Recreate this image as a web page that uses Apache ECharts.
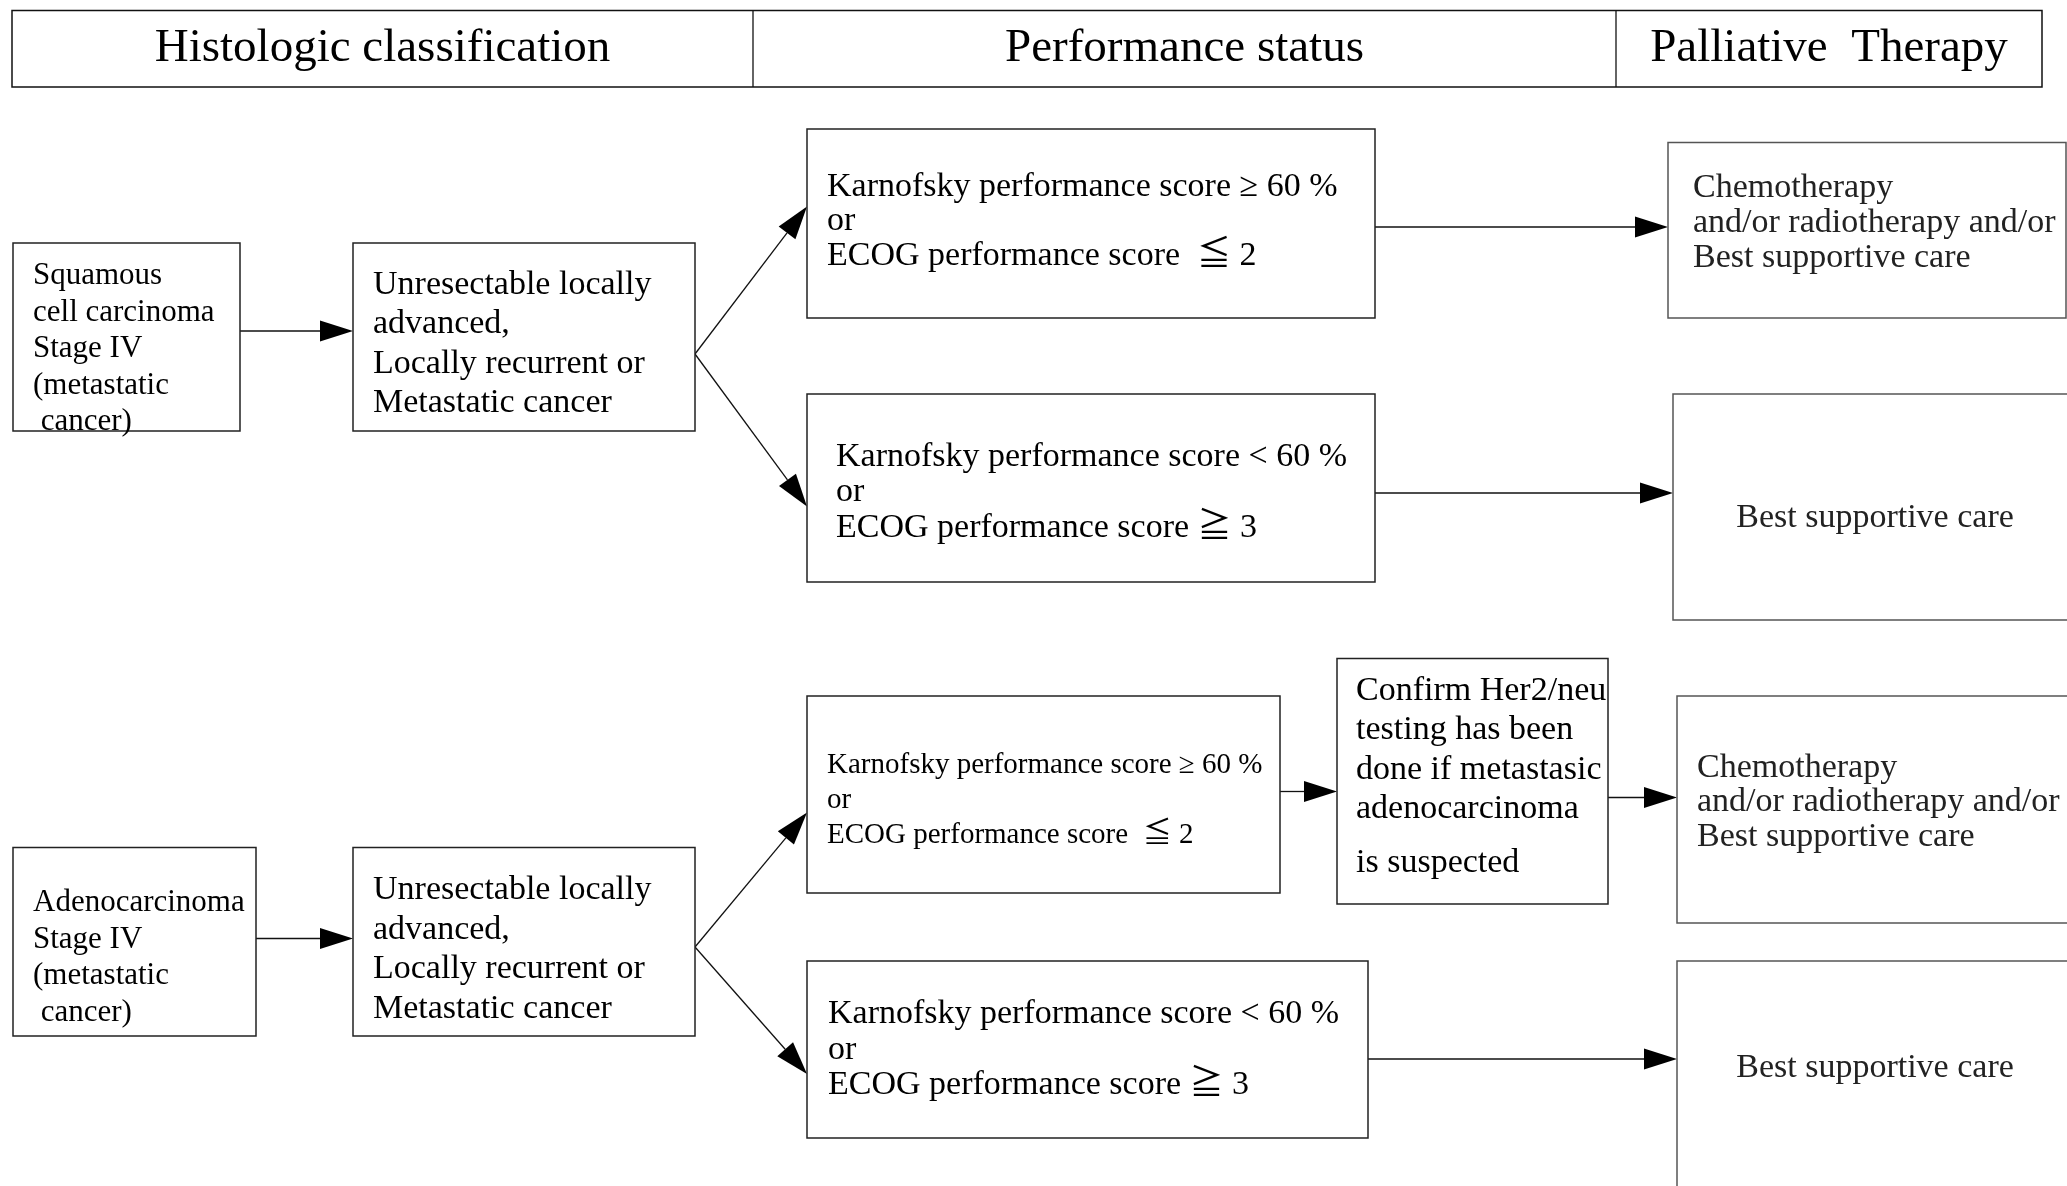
<!DOCTYPE html>
<html>
<head>
<meta charset="utf-8">
<title>Palliative therapy flow</title>
<script src="https://cdn.jsdelivr.net/npm/echarts@6/dist/echarts.min.js"></script>
<style>
  html, body { margin: 0; padding: 0; background: #fff; }
  #chart { width: 2067px; height: 1186px; }
</style>
</head>
<body>
<div id="chart"></div>
<script>
// column headers
const headers = ['Histologic classification', 'Performance status', 'Palliative  Therapy']

// box texts
const histologyLabels = [
  'Squamous\ncell carcinoma\nStage IV\n(metastatic\n cancer)',
  'Adenocarcinoma\nStage IV\n(metastatic\n cancer)'
]
const extentLabel = 'Unresectable locally\nadvanced,\nLocally recurrent or\nMetastatic cancer'
const statusLabels = [
  'Karnofsky performance score \u2265 60 %\nor\nECOG performance score  \u2266 2',
  'Karnofsky performance score < 60 %\nor\nECOG performance score \u2267 3'
]
const her2Label = 'Confirm Her2/neu\ntesting has been\ndone if metastasic\nadenocarcinoma\nis suspected'
const therapyLabels = ['Chemotherapy\nand/or radiotherapy and/or\nBest supportive care', 'Best supportive care']

// which box goes to which
const links = [
  ['A1', 'B1'], ['B1', 'C1'], ['B1', 'C2'], ['C1', 'D1'], ['C2', 'D2'],
  ['A2', 'B2'], ['B2', 'C3'], ['B2', 'C4'], ['C3', 'E'], ['E', 'D3'], ['C4', 'D4']
]

// layout only (pixels of the page)
const FONT = '"Liberation Serif", "Times New Roman", "Noto Sans CJK JP", serif'
const TEXT_SHIFT = 2
const boxLayout = {
  A1: { x: 13, y: 243, w: 227, h: 188, tx: 33, ty: 274, gap: 36.5, fs: 31 },
  B1: { x: 353, y: 243, w: 342, h: 188, tx: 373, ty: 283, gap: 39.5, fs: 34 },
  C1: { x: 807, y: 129, w: 568, h: 189, tx: 827, ty: 185, gap: 34.5, fs: 34 },
  C2: { x: 807, y: 394, w: 568, h: 188, tx: 836, ty: 455, gap: 35.5, fs: 34 },
  D1: { x: 1668, y: 142.5, w: 398, h: 175.5, tx: 1693, ty: 186.5, gap: 35, fs: 34, color: '#222', border: '#555' },
  D2: { x: 1673, y: 394, w: 420, h: 226, tx: 1875, ty: 516.5, gap: 35, fs: 34, center: true, color: '#222', border: '#555' },
  A2: { x: 13, y: 847.5, w: 243, h: 188.5, tx: 33, ty: 901, gap: 36.5, fs: 31 },
  B2: { x: 353, y: 847.5, w: 342, h: 188.5, tx: 373, ty: 888, gap: 39.6, fs: 34 },
  C3: { x: 807, y: 696, w: 473, h: 197, tx: 827, ty: 763, gap: 35, fs: 29 },
  E: { x: 1337, y: 658.5, w: 271, h: 245.5, tx: 1356, ty: 689, gap: 39.5, fs: 34, extraFrom: 4, extra: 14.5 },
  D3: { x: 1677, y: 696, w: 400, h: 227, tx: 1697, ty: 766, gap: 34.5, fs: 34, color: '#222', border: '#555' },
  C4: { x: 807, y: 961, w: 561, h: 177, tx: 828, ty: 1012.5, gap: 35.5, fs: 34 },
  D4: { x: 1677, y: 961, w: 400, h: 300, tx: 1875, ty: 1066.5, gap: 35, fs: 34, center: true, color: '#222', border: '#555' }
}
// y where each arrow leaves / enters its boxes
const arrowLayout = [
  [331, 331], [354, 206.5], [354, 506.5], [227, 227], [493, 493],
  [938.5, 938.5], [947, 812.5], [947, 1074], [791.5, 791.5], [797.5, 797.5], [1059, 1059]
]
const headerLayout = { x: 12, y: 10.5, w: 2030, h: 76.5, cuts: [753, 1616], fs: 47, ty: 49 }

const boxText = {
  A1: histologyLabels[0], B1: extentLabel, C1: statusLabels[0], C2: statusLabels[1],
  D1: therapyLabels[0], D2: therapyLabels[1],
  A2: histologyLabels[1], B2: extentLabel, C3: statusLabels[0], E: her2Label,
  D3: therapyLabels[0], C4: statusLabels[1], D4: therapyLabels[1]
}
const boxIds = Object.keys(boxLayout)

function renderHeader(params, api) {
  const L = headerLayout
  const p0 = api.coord([L.x, L.y])
  const p1 = api.coord([L.x + L.w, L.y + L.h])
  const edges = [L.x].concat(L.cuts, [L.x + L.w])
  const children = [{
    type: 'rect',
    shape: { x: p0[0], y: p0[1], width: p1[0] - p0[0], height: p1[1] - p0[1] },
    style: { fill: '#fff', stroke: '#111', lineWidth: 1.5 }
  }]
  L.cuts.forEach(c => {
    const a = api.coord([c, L.y])
    const b = api.coord([c, L.y + L.h])
    children.push({ type: 'line', shape: { x1: a[0], y1: a[1], x2: b[0], y2: b[1] }, style: { stroke: '#111', lineWidth: 1.3 } })
  })
  headers.forEach((h, i) => {
    const c = api.coord([(edges[i] + edges[i + 1]) / 2, L.ty])
    children.push({
      type: 'text', x: c[0], y: c[1],
      style: { text: h, fill: '#000', fontSize: L.fs, fontFamily: FONT, align: 'center', verticalAlign: 'middle' }
    })
  })
  return { type: 'group', children: children }
}

function renderBox(params, api) {
  const id = boxIds[params.dataIndex]
  const b = boxLayout[id]
  const p0 = api.coord([b.x, b.y])
  const p1 = api.coord([b.x + b.w, b.y + b.h])
  const children = [{
    type: 'rect',
    shape: { x: p0[0], y: p0[1], width: p1[0] - p0[0], height: p1[1] - p0[1] },
    style: { fill: '#fff', stroke: b.border || '#222', lineWidth: 1.5 }
  }]
  boxText[id].split('\n').forEach((line, i) => {
    let y = b.ty + i * b.gap + TEXT_SHIFT
    if (b.extraFrom !== undefined && i >= b.extraFrom) y += b.extra
    const c = api.coord([b.tx, y])
    children.push({
      type: 'text', x: c[0], y: c[1],
      style: {
        text: line, fill: b.color || '#000', fontSize: b.fs, fontFamily: FONT,
        align: b.center ? 'center' : 'left', verticalAlign: 'middle'
      }
    })
  })
  return { type: 'group', children: children }
}

function renderArrow(params, api) {
  const link = links[params.dataIndex]
  const from = boxLayout[link[0]]
  const to = boxLayout[link[1]]
  const ys = arrowLayout[params.dataIndex]
  const a = api.coord([from.x + from.w, ys[0]])
  const b = api.coord([to.x, ys[1]])
  const dx = b[0] - a[0]
  const dy = b[1] - a[1]
  const len = Math.sqrt(dx * dx + dy * dy)
  const ux = dx / len
  const uy = dy / len
  const headLen = 33
  const half = 10.5
  const bx = b[0] - ux * headLen
  const by = b[1] - uy * headLen
  return {
    type: 'group',
    children: [
      { type: 'line', shape: { x1: a[0], y1: a[1], x2: bx, y2: by }, style: { stroke: '#111', lineWidth: 1.3 } },
      {
        type: 'polygon',
        shape: { points: [[b[0], b[1]], [bx - uy * half, by + ux * half], [bx + uy * half, by - ux * half]] },
        style: { fill: '#000' }
      }
    ]
  }
}

const myChart = echarts.init(document.getElementById('chart'))
myChart.setOption({
  animation: false,
  grid: { left: 0, right: 0, top: 0, bottom: 0 },
  xAxis: { type: 'value', min: 0, max: 2067, show: false },
  yAxis: { type: 'value', min: 0, max: 1186, inverse: true, show: false },
  series: [
    {
      type: 'custom', name: 'header', silent: true, clip: true,
      renderItem: renderHeader,
      data: [[headerLayout.x, headerLayout.y]]
    },
    {
      type: 'custom', name: 'arrows', silent: true, clip: true,
      renderItem: renderArrow,
      data: links.map((l, i) => [boxLayout[l[1]].x, arrowLayout[i][1]])
    },
    {
      type: 'custom', name: 'boxes', silent: true, clip: true,
      renderItem: renderBox,
      data: boxIds.map(id => [boxLayout[id].x, boxLayout[id].y])
    }
  ]
})
</script>
</body>
</html>
